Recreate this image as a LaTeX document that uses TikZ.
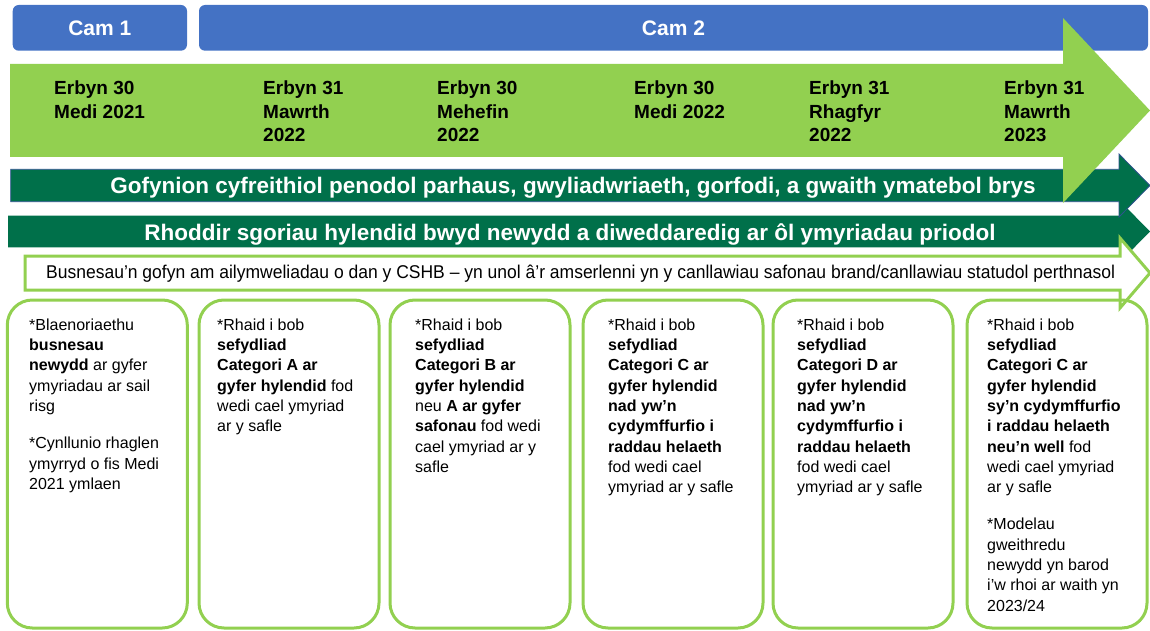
\documentclass[tikz,border=0pt]{standalone}
\usepackage{fontspec}
\usepackage{graphicx}
\setmainfont{Liberation Sans}
\definecolor{camblue}{HTML}{4472C4}
\definecolor{lightgreen}{HTML}{92D050}
\definecolor{darkgreen}{HTML}{00704A}
\definecolor{edgeblue}{HTML}{2F528F}
\begin{document}
\begin{tikzpicture}[x=1pt,y=-1pt,
  cambox/.style={fill=camblue,rounded corners=6pt,text=white,inner sep=0,
    minimum height=45.7pt,font=\fontsize{21}{24}\selectfont\bfseries},
  datelabel/.style={anchor=north west,align=left,inner sep=0,
    font=\fontsize{19}{23.7}\selectfont\bfseries},
  bandtext/.style={anchor=base,inner sep=0,text=white,
    font=\fontsize{22.5}{26}\selectfont\bfseries},
  card/.style={draw=lightgreen,line width=3pt,rounded corners=25pt,
    minimum width=180pt,minimum height=328pt,inner sep=0},
  cardtext/.style={anchor=north west,align=left,inner sep=0,
    font=\fontsize{16}{20.3}\selectfont}]
\useasboundingbox (0,0) rectangle (1150,631);
\node[cambox,minimum width=174.3pt] (cam1) at (99.85,27.85) {Cam 1};
\node[cambox,minimum width=949pt] (cam2) at (673.5,27.85) {Cam 2};
\fill[darkgreen] (8,215.7) -- (1119,215.7) -- (1119,200) -- (1150,231.5)
  -- (1119,263) -- (1119,247.3) -- (8,247.3) -- cycle;
\filldraw[fill=darkgreen,draw=edgeblue,line width=0.8pt] (10.7,169.3) -- (1119,169.3)
  -- (1119,154) -- (1150,185.5) -- (1119,217) -- (1119,201.7) -- (10.7,201.7) -- cycle;
\filldraw[fill=white,draw=lightgreen,line width=3pt] (25,256) -- (1120,256) -- (1120,238)
  -- (1150,273) -- (1120,308) -- (1120,290) -- (25,290) -- cycle;
\fill[lightgreen] (10,64) -- (1063,64) -- (1063,18) -- (1150,110.5) -- (1063,203)
  -- (1063,157) -- (10,157) -- cycle;
\foreach \i/\x/\t in {1/54/{Erbyn 30\\Medi 2021},2/263/{Erbyn 31\\Mawrth\\2022},
  3/437/{Erbyn 30\\Mehefin\\2022},4/634/{Erbyn 30\\Medi 2022},
  5/809/{Erbyn 31\\Rhagfyr\\2022},6/1004/{Erbyn 31\\Mawrth\\2023}} {
  \node[datelabel] (D\i) at (\x,80.6) {\t};
}
\node[bandtext] (gofynion) at (573,193.3)
  {Gofynion cyfreithiol penodol parhaus, gwyliadwriaeth, gorfodi, a gwaith ymatebol brys};
\node[bandtext] (sgoriau) at (570,240)
  {Rhoddir sgoriau hylendid bwyd newydd a diweddaredig ar ôl ymyriadau priodol};
\node[anchor=base west,inner sep=0] (ailymweld) at (46,278.3)
  {\resizebox{1069pt}{\height}{\fontsize{18.5}{20}\selectfont Busnesau’n gofyn am ailymweliadau o dan y CSHB – yn unol â’r amserlenni yn y canllawiau safonau brand/canllawiau statudol perthnasol}};
\foreach \i/\x in {1/7.3,2/199,3/390,4/583,5/773,6/967} {
  \node[card] (B\i) at (\x+90,464) {};
}
\node[cardtext] (T1) at (29,318.5) {*Blaenoriaethu\\ \textbf{busnesau}\\
  \textbf{newydd} ar gyfer\\ ymyriadau ar sail\\ risg\\[17pt]
  *Cynllunio rhaglen\\ ymyrryd o fis Medi\\ 2021 ymlaen};
\node[cardtext] (T2) at (217,318.5) {*Rhaid i bob\\ \textbf{sefydliad}\\
  \textbf{Categori A ar}\\ \textbf{gyfer hylendid} fod\\ wedi cael ymyriad\\ ar y safle};
\node[cardtext] (T3) at (415,318.5) {*Rhaid i bob\\ \textbf{sefydliad}\\
  \textbf{Categori B ar}\\ \textbf{gyfer hylendid}\\ neu \textbf{A ar gyfer}\\
  \textbf{safonau} fod wedi\\ cael ymyriad ar y\\ safle};
\node[cardtext] (T4) at (608,318.5) {*Rhaid i bob\\ \textbf{sefydliad}\\
  \textbf{Categori C ar}\\ \textbf{gyfer hylendid}\\ \textbf{nad yw’n}\\
  \textbf{cydymffurfio i}\\ \textbf{raddau helaeth}\\ fod wedi cael\\ ymyriad ar y safle};
\node[cardtext] (T5) at (797,318.5) {*Rhaid i bob\\ \textbf{sefydliad}\\
  \textbf{Categori D ar}\\ \textbf{gyfer hylendid}\\ \textbf{nad yw’n}\\
  \textbf{cydymffurfio i}\\ \textbf{raddau helaeth}\\ fod wedi cael\\ ymyriad ar y safle};
\node[cardtext] (T6) at (987,318.5) {*Rhaid i bob\\ \textbf{sefydliad}\\
  \textbf{Categori C ar}\\ \textbf{gyfer hylendid}\\ \textbf{sy’n cydymffurfio}\\
  \textbf{i raddau helaeth}\\ \textbf{neu’n well} fod\\ wedi cael ymyriad\\ ar y safle\\[17pt]
  *Modelau\\ gweithredu\\ newydd yn barod\\ i’w rhoi ar waith yn\\ 2023/24};
\end{tikzpicture}
\end{document}
